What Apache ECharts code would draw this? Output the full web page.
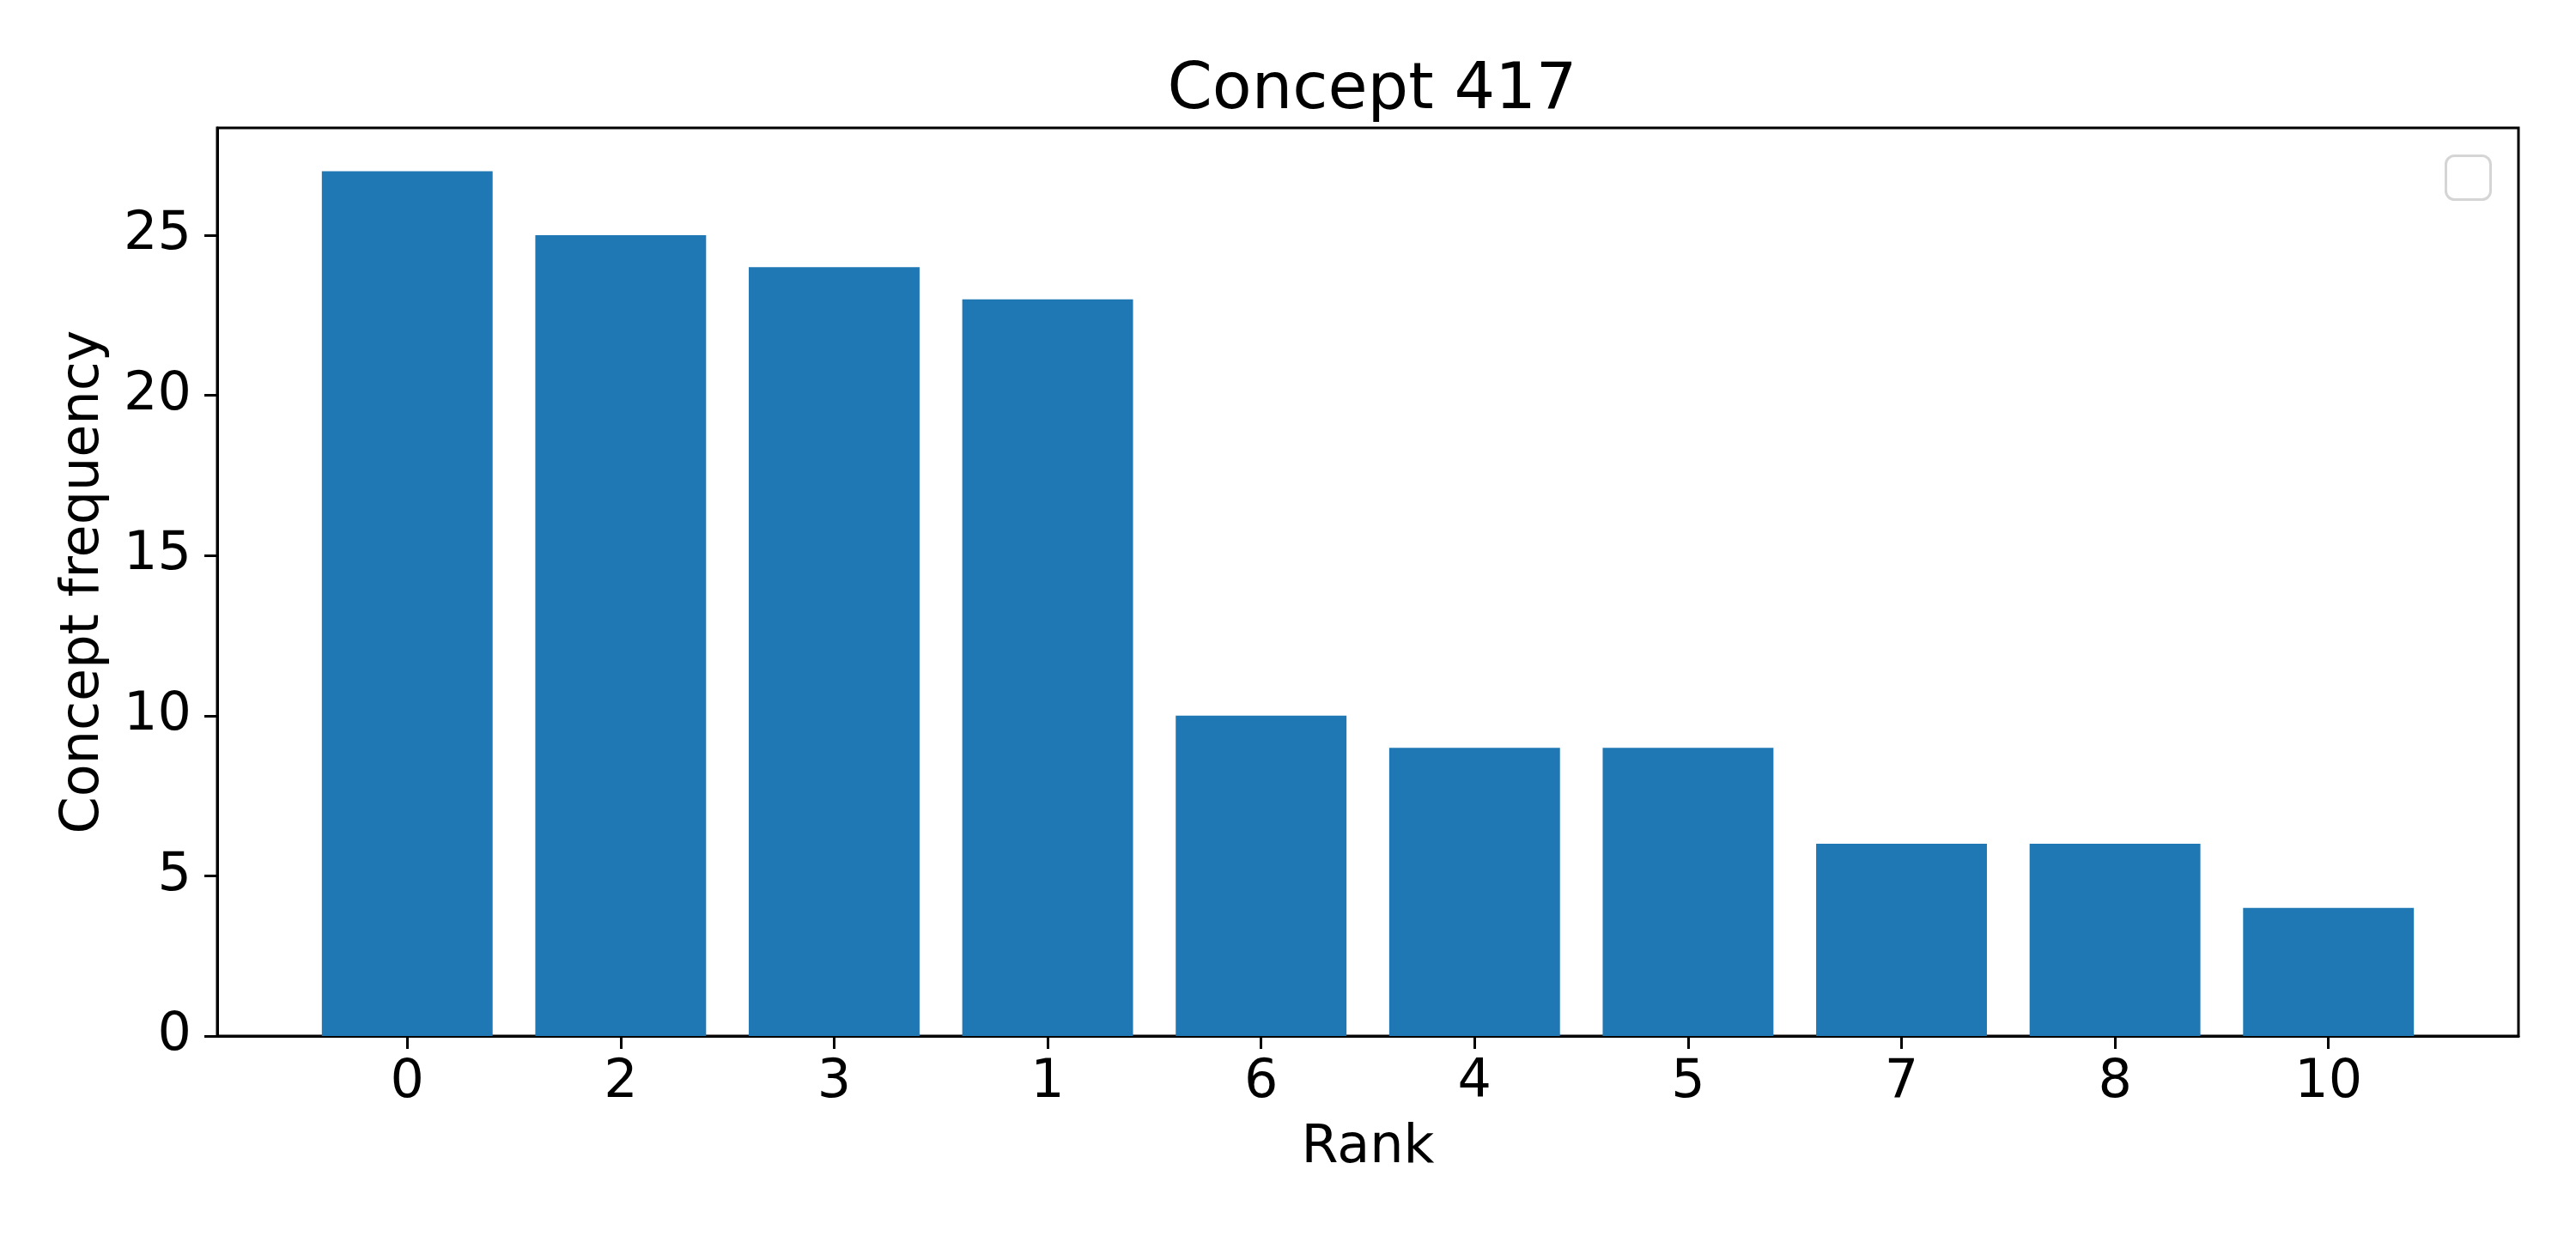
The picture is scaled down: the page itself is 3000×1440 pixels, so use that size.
<!DOCTYPE html>
<html>
<head>
	<meta charset="utf-8">
	<title>Concept 417</title>
	<style>
		html, body {
			margin: 0;
			padding: 0;
			background: #fff;
		}
		#chart {
			width: 3000px;
			height: 1440px;
		}
	</style>
</head>
<body>
	<div id="chart"></div>
	<script src="https://cdn.jsdelivr.net/npm/echarts@6/dist/echarts.min.js"></script>
	<script>
	// ranks on the x axis, in drawing order
	var ranks = ['0', '2', '3', '1', '6', '4', '5', '7', '8', '10'];
	var freqs = [27, 25, 24, 23, 10, 9, 9, 6, 6, 4];
	var yTicks = [0, 5, 10, 15, 20, 25];

	var gridL = 253, gridR = 67, gridT = 149, gridB = 233;
	// matplotlib style x range: bars of width 0.8 plus 5% margin
	var xMin = -0.89, xMax = ranks.length - 1 + 0.89;
	var unit = (3000 - gridL - gridR) / (xMax - xMin);
	var font = 'DejaVu Sans';

	var positions = ranks.map(function (r, i) { return i; });
	var barData = freqs.map(function (v, i) { return [i, v]; });

	var chart = echarts.init(document.getElementById('chart'));
	chart.setOption({
		animation: false,
		title: {
			text: 'Concept 417',
			left: gridL + (3000 - gridL - gridR) / 2,
			textAlign: 'center',
			top: 64,
			textStyle: { fontFamily: font, fontSize: 75, fontWeight: 'normal', color: '#000' }
		},
		grid: {
			left: gridL, right: gridR, top: gridT, bottom: gridB,
			show: true, borderColor: '#000', borderWidth: 3
		},
		xAxis: {
			type: 'value',
			min: xMin,
			max: xMax,
			name: 'Rank',
			nameLocation: 'middle',
			nameGap: 100,
			nameTextStyle: { fontFamily: font, fontSize: 62, color: '#000' },
			splitLine: { show: false },
			axisLine: { show: true, onZero: false, lineStyle: { color: '#000', width: 3 } },
			axisTick: { show: true, length: 15, lineStyle: { color: '#000', width: 3 }, customValues: positions },
			axisLabel: {
				customValues: positions,
				margin: 24,
				fontFamily: font, fontSize: 62, color: '#000',
				formatter: function (v) { return ranks[Math.round(v)]; }
			}
		},
		yAxis: {
			type: 'value',
			min: 0,
			max: 28.35,
			name: 'Concept frequency',
			nameLocation: 'middle',
			nameGap: 124,
			nameTextStyle: { fontFamily: font, fontSize: 62, color: '#000' },
			splitLine: { show: false },
			axisLine: { show: true, onZero: false, lineStyle: { color: '#000', width: 3 } },
			axisTick: { show: true, length: 15, lineStyle: { color: '#000', width: 3 }, customValues: yTicks },
			axisLabel: { customValues: yTicks, margin: 30, fontFamily: font, fontSize: 62, color: '#000' }
		},
		graphic: [{
			// empty matplotlib legend box
			type: 'rect',
			right: 3000 - 2902,
			top: 180,
			shape: { width: 52, height: 51, r: 10 },
			style: { fill: '#fff', stroke: '#d5d5d5', lineWidth: 3 }
		}],
		series: [{
			type: 'bar',
			data: barData,
			barWidth: 0.8 * unit,
			itemStyle: { color: '#1f77b4' }
		}]
	});
	</script>
</body>
</html>
